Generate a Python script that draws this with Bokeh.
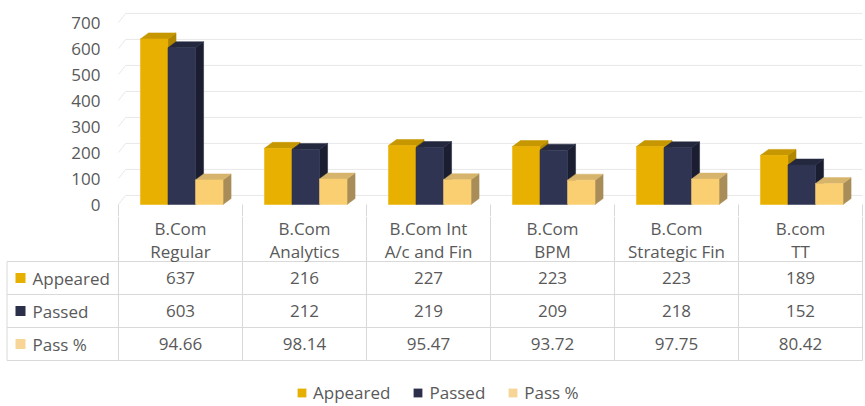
from bokeh.plotting import figure
from bokeh.models import Range1d, FixedTicker, LinearAxis, Legend, LegendItem
from bokeh.layouts import column
from bokeh.embed import file_html
from bokeh.resources import INLINE
from bokeh.core.properties import value

# ---------------- data ----------------
categories = ["B.Com\nRegular", "B.Com\nAnalytics", "B.Com Int\nA/c and Fin",
              "B.Com\nBPM", "B.Com\nStrategic Fin", "B.com\nTT"]
appeared = [637, 216, 227, 223, 223, 189]
passed = [603, 212, 219, 209, 218, 152]
pass_pct = [94.66, 98.14, 95.47, 93.72, 97.75, 80.42]
series_names = ["Appeared", "Passed", "Pass %"]
y_ticks = [0, 100, 200, 300, 400, 500, 600, 700]

# ---------------- styles ----------------
FONT = "Open Sans"
FS = "17px"
TXT = "#595959"
GRID = "#E8E8E8"
TABLE_LINE = "#D9D9D9"
front_colors = ["#E8B000", "#2F3452", "#F9CF72"]
top_colors = ["#C69700", "#24283F", "#D7B46C"]
side_colors = ["#B08600", "#1B1E30", "#A88D58"]
key_colors = ["#E6B000", "#2B2F4A", "#F7D597"]

W = 865
CAT_PX = 124.0        # pixels per category
CAT0_PX = 118.0       # page x of the first category boundary
TOP_H = 216           # chart part height (value 0 lies at y=204)
BOT_H = 406 - TOP_H
PX_PER_UNIT = 0.26
Y0_PX = 204.0

n = len(categories)

# ---------------- chart figure ----------------
y_start = -(TOP_H - Y0_PX) / PX_PER_UNIT
y_end = Y0_PX / PX_PER_UNIT
x1_start = -1 / CAT_PX
x1_end = (W - CAT0_PX) / CAT_PX
p1 = figure(width=W, height=TOP_H, x_range=Range1d(x1_start, x1_end),
            y_range=Range1d(y_start, y_end),
            x_axis_type=None, y_axis_type=None, output_backend="svg",
            toolbar_location=None, min_border_left=int(CAT0_PX) - 1, min_border_right=0,
            min_border_top=0, min_border_bottom=0)
p1.frame_align = False
p1.outline_line_color = None
p1.background_fill_color = "white"
p1.xgrid.visible = False
p1.ygrid.visible = False

yax = LinearAxis(ticker=FixedTicker(ticks=y_ticks))
yax.axis_line_color = None
yax.major_tick_line_color = None
yax.minor_tick_line_color = None
yax.major_tick_out = 0
yax.major_tick_in = 0
yax.major_label_standoff = 17
yax.major_label_text_font = FONT
yax.major_label_text_font_size = FS
yax.major_label_text_color = TXT
p1.add_layout(yax, "left")

# back-wall gridlines (3D offset)
DX = 0.065
DY = 23
WALL_DX = 0.057
WALL_DY = 35
gx = [[0, WALL_DX, n] for _ in y_ticks]
gy = [[v, v + WALL_DY, v + WALL_DY] for v in y_ticks]
p1.multi_line(gx, gy, line_color=GRID, line_width=1)

# tops of the table's column separators (under the floor)
p1.segment(x0=list(range(n + 1)), x1=list(range(n + 1)), y0=[y_start] * (n + 1), y1=[0] * (n + 1),
           line_color=TABLE_LINE, line_width=1)

BAR_W = 0.222
GROUP_C = 0.51
for s, vals in enumerate([appeared, passed, pass_pct]):
    lefts = [i + GROUP_C + (s - 1) * BAR_W - BAR_W / 2 for i in range(len(vals))]
    rights = [l + BAR_W for l in lefts]
    side_xs = [[r, r + DX, r + DX, r] for r in rights]
    side_ys = [[0, DY, v + DY, v] for v in vals]
    top_xs = [[l, l + DX, r + DX, r] for l, r in zip(lefts, rights)]
    top_ys = [[v, v + DY, v + DY, v] for v in vals]
    p1.patches(side_xs, side_ys, fill_color=side_colors[s], line_color=side_colors[s], line_width=0.5)
    p1.patches(top_xs, top_ys, fill_color=top_colors[s], line_color=top_colors[s], line_width=0.5)
    p1.quad(left=lefts, right=rights, bottom=0, top=vals,
            fill_color=front_colors[s], line_color=front_colors[s], line_width=0.5)

# ---------------- data-table figure ----------------
x0 = -CAT0_PX / CAT_PX
p2 = figure(width=W, height=BOT_H, x_range=Range1d(x0, x0 + W / CAT_PX),
            y_range=Range1d(406, TOP_H), x_axis_type=None, y_axis_type=None,
            output_backend="svg", toolbar_location=None, min_border=0)
p2.frame_align = False
p2.outline_line_color = None
p2.background_fill_color = "white"
p2.xgrid.visible = False
p2.ygrid.visible = False


def cx(px):
    return (px - CAT0_PX) / CAT_PX


row_y = [277.5, 310.5, 343.5]
h_lines = [261, 294, 327, 360]
left_edge = cx(6.5)

p2.segment(x0=list(range(n + 1)), x1=list(range(n + 1)), y0=[TOP_H] * (n + 1), y1=[360] * (n + 1),
           line_color=TABLE_LINE, line_width=1)
p2.segment(x0=[left_edge], x1=[left_edge], y0=[261], y1=[360], line_color=TABLE_LINE, line_width=1)
p2.segment(x0=[left_edge] * 4, x1=[n] * 4, y0=h_lines, y1=h_lines, line_color=TABLE_LINE, line_width=1)

# header (two lines per category)
lines = [c.split("\n") for c in categories]
centers = [i + 0.5 for i in range(n)]
for k, yy in enumerate([228, 251]):
    p2.text(x=centers, y=[yy] * n, text=[ln[k] for ln in lines],
            text_align="center", text_baseline="middle", text_font=value(FONT),
            text_font_size=FS, text_color=TXT)

# row keys + labels
p2.scatter(x=[cx(20)] * 3, y=row_y, marker="square", size=10,
           fill_color=key_colors, line_color=None)
p2.text(x=[cx(32)] * 3, y=row_y, text=series_names, text_align="left",
        text_baseline="middle", text_font=value(FONT), text_font_size=FS, text_color=TXT)

# values
for r, vals in enumerate([appeared, passed, pass_pct]):
    p2.text(x=centers, y=[row_y[r]] * n, text=[str(v) for v in vals],
            text_align="center", text_baseline="middle", text_font=value(FONT),
            text_font_size=FS, text_color=TXT)

# legend (key glyphs come from quads placed outside the visible range)
far = -100.0
leg_r = [p2.quad(left=[far], right=[far + 0.01], bottom=[far], top=[far + 1],
                 fill_color=c, line_color=None)
         for c in key_colors]
legend = Legend(items=[LegendItem(label=nm, renderers=[r]) for nm, r in zip(series_names, leg_r)],
                orientation="horizontal", location=(296, 2), margin=0, padding=0,
                spacing=22, label_standoff=6, glyph_width=11, glyph_height=11,
                label_text_font=FONT, label_text_font_size=FS, label_text_color=TXT,
                border_line_color=None, background_fill_alpha=0)
p2.add_layout(legend)

layout = column(p1, p2)
open("out.html", "w").write(file_html(layout, INLINE))
